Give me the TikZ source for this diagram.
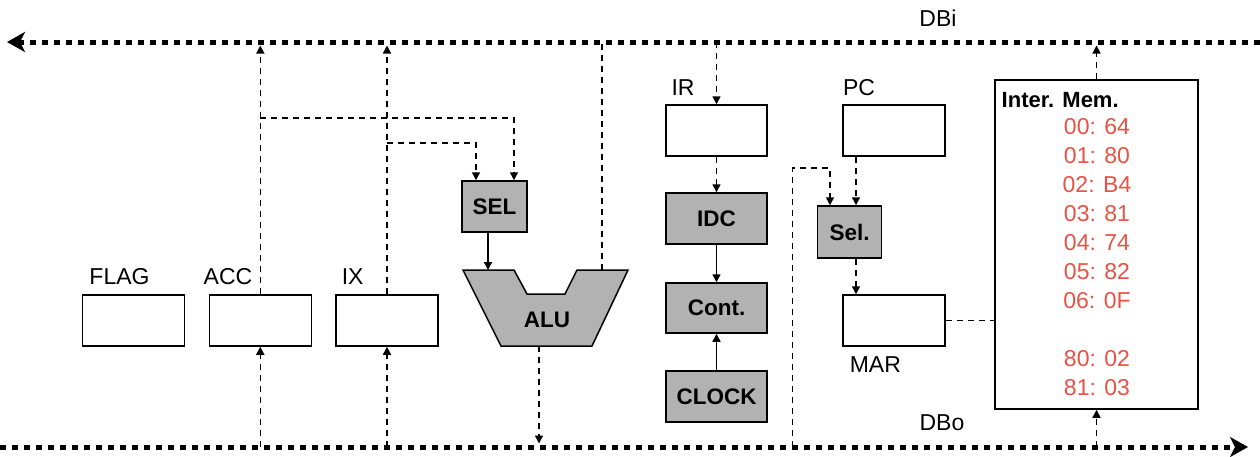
\documentclass[tikz,border=0pt]{standalone}
\usepackage{fontspec}
\setmainfont{Liberation Sans}
\usetikzlibrary{arrows.meta,calc}
\definecolor{memred}{RGB}{232,82,68}
\begin{document}
\begin{tikzpicture}[x=1pt,y=-1pt,
  reg/.style={draw,line width=1.5pt,minimum width=102pt,minimum height=51pt,inner sep=0pt},
  shadebox/.style={draw,line width=1.5pt,fill=black!30,inner sep=0pt,font=\fontsize{22.5}{26}\selectfont\bfseries},
  lbl/.style={font=\fontsize{23}{26}\selectfont,inner sep=0pt},
  bus/.style={line width=5pt,dash pattern=on 6pt off 6pt},
  dline/.style={line width=1.5pt,dash pattern=on 6pt off 5pt},
  sline/.style={line width=1.5pt},
  tip/.style={-{Triangle[length=8pt,width=8pt]}},
  bustip/.style={-{Stealth[length=18pt,width=20pt,inset=5pt]}},
  memtxt/.style={font=\fontsize{23}{26}\selectfont,text=memred,inner sep=0pt}]
\useasboundingbox (0,0) rectangle (1260,456);

% bus coordinates
\coordinate (dbiL) at (7,42);
\coordinate (dbiR) at (1260,42);
\coordinate (dboL) at (0,447);
\coordinate (dboR) at (1248,447);
\coordinate (dbi) at (0,45.5);
\coordinate (dbo) at (0,443.5);

% buses
\draw[bus,bustip] (dbiR) -- (dbiL);
\draw[bus,bustip] (dboL) -- (dboR);
\node[lbl] (dbilbl) at (938,18) {DBi};
\node[lbl] (dbolbl) at (942,423) {DBo};

% registers
\node[reg] (flag) at (133.7,320.5) {};
\node[reg] (acc) at (260.3,320.5) {};
\node[reg] (ix) at (387,320.5) {};
\node[lbl] (flagl) at (119.5,277) {FLAG};
\node[lbl] (accl) at (228,277) {ACC};
\node[lbl] (ixl) at (352.7,277) {IX};

% SEL and ALU
\node[shadebox,minimum width=65pt,minimum height=51pt] (sel) at (494.5,206.5) {SEL};
\draw[line width=1.5pt,fill=black!30] (463,270) -- (514,270) -- (527,294) -- (565,294) -- (577,270) -- (628,270) -- (592,346) -- (501,346) -- cycle;
\node[font=\fontsize{22.5}{26}\selectfont\bfseries,inner sep=0pt] (alu) at (547,320) {ALU};
\coordinate (aluA) at (488,270);
\coordinate (aluB) at (602,270);
\coordinate (aluO) at (539,346);

% control column
\node[reg,minimum width=101pt] (ir) at (716.5,130.5) {};
\node[lbl] (irl) at (683,88) {IR};
\node[shadebox,minimum width=101pt,minimum height=51pt] (idc) at (716.5,218.5) {IDC};
\node[shadebox,minimum width=101pt,minimum height=50pt] (cont) at (716.5,308) {Cont.};
\node[shadebox,minimum width=101pt,minimum height=51pt] (clock) at (716.5,396.5) {CLOCK};

% PC / Sel / MAR
\node[reg] (pc) at (894,130.5) {};
\node[lbl] (pcl) at (859,88) {PC};
\node[shadebox,minimum width=64pt,minimum height=52pt] (msel) at (849.7,232) {Sel.};
\node[reg] (mar) at (894,320.5) {};
\node[lbl] (marl) at (875.3,365) {MAR};

% memory
\node[draw,line width=1.5pt,minimum width=203pt,minimum height=329pt,inner sep=0pt] (mem) at (1096.5,244.5) {};
\node[font=\fontsize{22}{26}\selectfont\bfseries,inner sep=0pt,anchor=west] (memt) at (1001.5,100) {Inter. Mem.};
\node[memtxt] (m0) at (1097,127) {00: 64};
\node[memtxt] (m1) at (1097,156) {01: 80};
\node[memtxt] (m2) at (1097,185) {02: B4};
\node[memtxt] (m3) at (1097,214) {03: 81};
\node[memtxt] (m4) at (1097,243) {04: 74};
\node[memtxt] (m5) at (1097,272) {05: 82};
\node[memtxt] (m6) at (1097,301) {06: 0F};
\node[memtxt] (m7) at (1097,359) {80: 02};
\node[memtxt] (m8) at (1097,388) {81: 03};

% junction helpers
\coordinate (jA) at (0,118);
\coordinate (jB) at (0,143);
\coordinate (selA) at ($(sel.north)+(-18.5,0)$);
\coordinate (selB) at ($(sel.north)+(19.5,0)$);
\coordinate (pcx) at (856,0);
\coordinate (msA) at (830,0);
\coordinate (mx) at (792.5,168);

% ACC / IX connectors
\draw[dline,tip] (acc.north) -- (acc.north |- dbi);
\draw[dline,tip] (acc.south |- dboL) -- (acc.south);
\draw[dline,tip] (ix.north) -- (ix.north |- dbi);
\draw[dline,tip] (ix.south |- dboL) -- (ix.south);
\draw[dline,tip] (acc.north |- jA) -| (selB);
\draw[dline,tip] (ix.north |- jB) -| (selA);

% ALU connectors
\draw[sline,tip] (sel.south -| aluA) -- (aluA);
\draw[dline] (aluB) -- (aluB |- dbiL);
\draw[dline,tip] (aluO) -- (aluO |- dbo);

% control connectors
\draw[dline,tip] (ir.north |- dbiL) -- (ir.north);
\draw[dline,tip] (ir) -- (idc);
\draw[sline,tip] (idc) -- (cont);
\draw[sline,tip] (clock) -- (cont);

% PC / MAR connectors
\draw[dline,tip] (pc.south -| pcx) -- (msel.north -| pcx);
\draw[dline,tip] (mx |- dboL) -- (mx) -| (msel.north -| msA);
\draw[dline,tip] (msel.south -| pcx) -- (mar.north -| pcx);
\draw[dline] (mar.east) -- (mar.east -| mem.west);
\draw[dline,tip] (mem.north) -- (mem.north |- dbi);
\draw[dline,tip] (mem.south |- dboL) -- (mem.south);
\end{tikzpicture}
\end{document}
